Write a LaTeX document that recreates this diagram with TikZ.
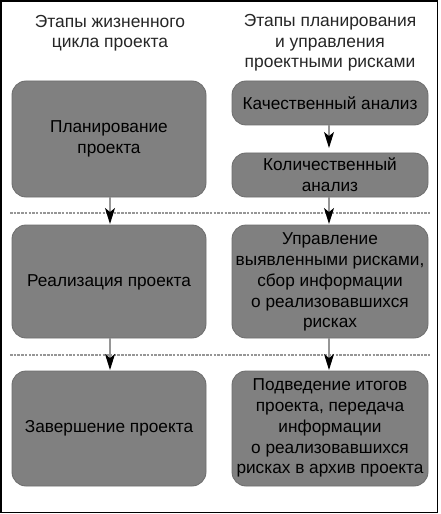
\documentclass[tikz,border=0pt]{standalone}
\usepackage{fontspec}
\setmainfont{Liberation Sans}
\usetikzlibrary{arrows.meta}
\definecolor{boxgray}{RGB}{128,128,128}
\definecolor{linegray}{RGB}{150,150,150}
\tikzset{
  stagebox/.style={fill=boxgray, draw=boxgray!85!black, line width=0.8bp, rounded corners=14bp, inner sep=0pt},
  lbl/.style={align=center, font=\fontsize{17.3}{21}\selectfont, text=black},
  hdr/.style={align=center, font=\fontsize{17.5}{20.5}\selectfont, text=black!85},
  flow/.style={draw=linegray, line width=1.2bp, -{Stealth[length=16bp,width=10bp,inset=4bp,black]}},
  sep/.style={draw=linegray, line width=1.8bp, dash pattern=on 2.5bp off 1.2bp},
}
\begin{document}
\begin{tikzpicture}[x=1bp,y=-1bp]
\useasboundingbox (0,0) rectangle (441,514);
\fill[white] (0,0) rectangle (441,514);
\draw[line width=1.5bp] (1,1) rectangle (437.5,512.5);
% headers
\node[hdr] (h1) at (110,33) {Этапы жизненного\\цикла проекта};
\node[hdr] (h2) at (330,43) {Этапы планирования\\и управления\\проектными рисками};
% separators
\coordinate (s1a) at (10,213); \coordinate (s1b) at (430,213);
\coordinate (s2a) at (10,355); \coordinate (s2b) at (430,355);
\draw[sep] (s1a) -- (s1b);
\draw[sep] (s2a) -- (s2b);
% boxes
\path[stagebox] (12,81) rectangle (206,197);
\node[lbl] (l1) at (109,139) {Планирование\\проекта};
\path[stagebox] (12,225) rectangle (206,338);
\node[lbl] (l2) at (109,282) {Реализация проекта};
\path[stagebox] (12,371) rectangle (206,486);
\node[lbl] (l3) at (109,428) {Завершение проекта};
\path[stagebox] (232,81) rectangle (428,125);
\node[lbl] (r1) at (330,103) {Качественный анализ};
\path[stagebox] (232,153) rectangle (428,197);
\node[lbl] (r2) at (330,175) {Количественный\\анализ};
\path[stagebox] (232,225) rectangle (428,338);
\node[lbl] (r3) at (330,282) {Управление\\выявленными рисками,\\сбор информации\\о реализовавшихся\\рисках};
\path[stagebox] (232,371) rectangle (428,486);
\node[lbl] (r4) at (330,428) {Подведение итогов\\проекта, передача\\информации\\о реализовавшихся\\рисках в архив проекта};
% anchor coordinates for connectors
\coordinate (l1b) at (110,197); \coordinate (l2t) at (110,224);
\coordinate (l2b) at (110,338); \coordinate (l3t) at (110,370);
\coordinate (r1b) at (329,125); \coordinate (r2t) at (329,148);
\coordinate (r2b) at (329,197); \coordinate (r3t) at (329,224);
\coordinate (r3b) at (329,338); \coordinate (r4t) at (329,370);
\draw[flow] (l1b) -- (l2t);
\draw[flow] (l2b) -- (l3t);
\draw[flow] (r1b) -- (r2t);
\draw[flow] (r2b) -- (r3t);
\draw[flow] (r3b) -- (r4t);
\end{tikzpicture}
\end{document}
